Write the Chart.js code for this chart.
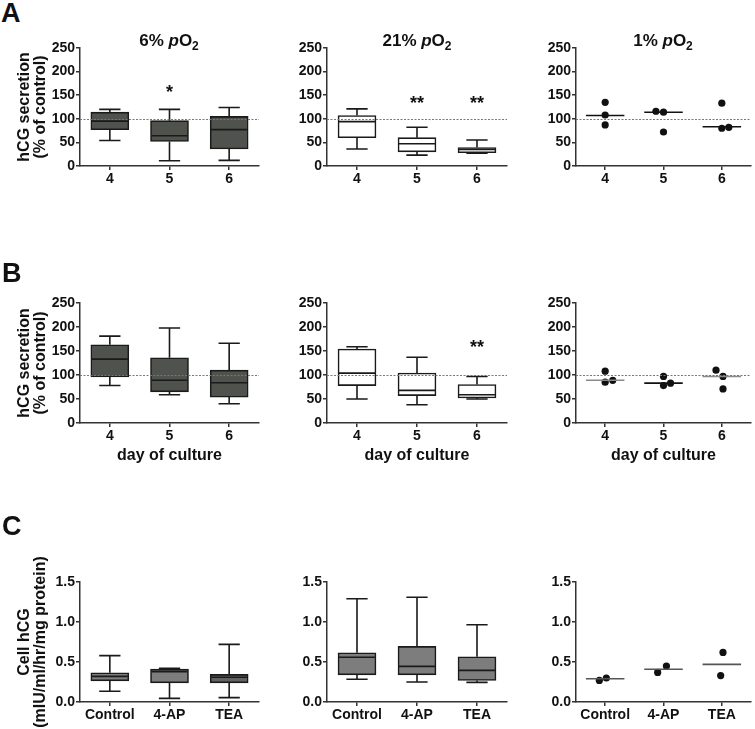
<!DOCTYPE html>
<html>
<head>
<meta charset="utf-8">
<script src="https://cdn.jsdelivr.net/npm/chart.js@4.4.1/dist/chart.umd.min.js"></script>
<style>
  body { margin: 0; background: #fff; }
  #fig { position: relative; width: 755px; height: 729px; font-family: 'Liberation Sans', Arial, sans-serif; color: #111; }
  canvas { position: absolute; }
  .lbl { position: absolute; font-weight: bold; white-space: nowrap; }
  .letter { font-size: 27px; line-height: 26px; }
  .ptitle { font-size: 17px; line-height: 16px; transform: translateX(-50%); }
  .ptitle .sub { font-size: 12px; position: relative; top: 4px; }
  .ytitle { font-size: 16px; line-height: 16px; text-align: center; transform: translate(-50%, -50%) rotate(-90deg); }
</style>
</head>
<body>
<div id="fig"></div>
<script>
// categories
const days = [4, 5, 6];
const treatments = ['Control', '4-AP', 'TEA'];

// box plots: [min, q1, median, q3, max] per category
const a6Box = [[54, 77, 95, 114, 120], [11, 52, 64, 96, 120], [12, 36, 77, 105, 124]];
const a21Box = [[36, 60, 94, 107, 121], [23, 30, 47, 60, 82], [27, 28, 35, 39, 55]];
const b6Box = [[78, 96, 133, 163, 181], [59, 65, 89, 136, 198], [40, 54, 84, 110, 166]];
const b21Box = [[50, 78, 104, 154, 159], [38, 57, 68, 104, 137], [50, 52, 59, 80, 97]];
const c1Box = [[0.135, 0.265, 0.32, 0.365, 0.58], [0.045, 0.24, 0.38, 0.41, 0.42], [0.055, 0.24, 0.31, 0.345, 0.72]];
const c2Box = [[0.285, 0.34, 0.56, 0.615, 1.29], [0.25, 0.34, 0.445, 0.695, 1.31], [0.245, 0.27, 0.395, 0.565, 0.965]];

// 1% pO2 / third column: single points and their medians
const a1Dots = [[135, 108, 87], [116, 114, 72], [133, 80, 82]];
const a1Mid = [107, 114, 83];
const b1Dots = [[108, 85, 89], [97, 78, 83], [110, 97, 71]];
const b1Mid = [89, 83, 97];
const c3Dots = [[0.27, 0.30], [0.37, 0.45], [0.62, 0.33]];
const c3Mid = [0.29, 0.41, 0.47];

// significance marks
const a6Stars = ['', '*', ''];
const a21Stars = ['', '**', '**'];
const b21Stars = ['', '', '**'];

// horizontal spread of overlapping points (style only)
const a1Jit = [[0, 0, 0], [-0.13, 0, 0], [0, 0, 0.12]];
const b1Jit = [[0, 0, 0.13], [0, 0, 0.12], [-0.1, 0.02, 0.02]];
const c3Jit = [[-0.1, 0.02], [-0.1, 0.05], [0.02, -0.02]];

const FONT = "'Liberation Sans', Arial, sans-serif";
const fig = document.getElementById('fig');
const COLS = [{ axis: 80, right: 259 }, { axis: 327, right: 507 }, { axis: 576, right: 753 }];
const ROWS = [{ top: 48, h: 118, xh: 25 }, { top: 303, h: 120, xh: 45 }, { top: 582, h: 120, xh: 25 }];
const PADT = 10;
const tickFont = { family: FONT, size: 14, weight: 'bold' };

function addLabel(cls, html, left, top) {
    const d = document.createElement('div');
    d.className = 'lbl ' + cls;
    d.innerHTML = html;
    d.style.left = left + 'px';
    d.style.top = top + 'px';
    fig.appendChild(d);
}

function makeCanvas(col, row) {
    const c = document.createElement('canvas');
    const yw = col === 0 ? COLS[0].axis : 40;
    const left = COLS[col].axis - yw;
    c.width = COLS[col].right + 2 - left;
    c.height = PADT + ROWS[row].h + ROWS[row].xh;
    c.style.left = left + 'px';
    c.style.top = (ROWS[row].top - PADT) + 'px';
    fig.appendChild(c);
    return { canvas: c, yw: yw };
}

function yScale(yw, max, step, fmt) {
    return {
        min: 0, max: max,
        afterFit: s => { s.width = yw; },
        ticks: { stepSize: step, color: '#111', font: tickFont, padding: 1, callback: fmt },
        grid: { drawOnChartArea: false, tickLength: 4, color: '#333', lineWidth: 1.5 },
        border: { color: '#333', width: 1.5 }
    };
}

function xCommon(row) {
    return {
        afterFit: s => { s.height = ROWS[row].xh; },
        grid: { offset: false, drawOnChartArea: false, tickLength: 4, color: '#333', lineWidth: 1.5 },
        border: { color: '#333', width: 1.5 },
        ticks: { color: '#111', font: tickFont, padding: 1, maxRotation: 0, autoSkip: false },
        title: row === 1
            ? { display: true, text: 'day of culture', color: '#111', font: { family: FONT, size: 16, weight: 'bold' }, padding: { top: 0, bottom: 3 } }
            : { display: false }
    };
}

// dotted reference line at 100 %
function refLine(value) {
    return {
        id: 'refLine',
        afterDatasetsDraw(chart) {
            const { ctx, chartArea, scales: { y } } = chart;
            const py = Math.round(y.getPixelForValue(value)) + 0.5;
            ctx.save();
            ctx.strokeStyle = '#777';
            ctx.lineWidth = 1;
            ctx.setLineDash([2, 1.5]);
            ctx.beginPath();
            ctx.moveTo(chartArea.left, py);
            ctx.lineTo(chartArea.right, py);
            ctx.stroke();
            ctx.restore();
        }
    };
}

// whiskers + median for the floating-bar boxes
function whiskers(box) {
    return {
        id: 'whiskers',
        afterDatasetsDraw(chart) {
            const { ctx, scales: { x, y } } = chart;
            const bars = chart.getDatasetMeta(0).data;
            ctx.save();
            ctx.strokeStyle = '#1a1a1a';
            ctx.lineWidth = 1.6;
            box.forEach((b, i) => {
                const cx = x.getPixelForValue(i);
                const half = bars[i].width / 2 - 1;
                const cap = bars[i].width * 0.28;
                const yMin = y.getPixelForValue(b[0]), yQ1 = y.getPixelForValue(b[1]);
                const yMed = y.getPixelForValue(b[2]);
                const yQ3 = y.getPixelForValue(b[3]), yMax = y.getPixelForValue(b[4]);
                ctx.beginPath();
                ctx.moveTo(cx, yMin); ctx.lineTo(cx, yQ1);
                ctx.moveTo(cx, yQ3); ctx.lineTo(cx, yMax);
                ctx.moveTo(cx - cap, yMin); ctx.lineTo(cx + cap, yMin);
                ctx.moveTo(cx - cap, yMax); ctx.lineTo(cx + cap, yMax);
                ctx.moveTo(cx - half, yMed); ctx.lineTo(cx + half, yMed);
                ctx.stroke();
            });
            ctx.restore();
        }
    };
}

function stars(marks, level) {
    return {
        id: 'stars',
        afterDatasetsDraw(chart) {
            const { ctx, scales: { x, y } } = chart;
            ctx.save();
            ctx.fillStyle = '#111';
            ctx.font = 'bold 18px ' + FONT;
            ctx.textAlign = 'center';
            ctx.textBaseline = 'alphabetic';
            marks.forEach((m, i) => {
                if (m) ctx.fillText(m, x.getPixelForValue(i), y.getPixelForValue(level) + 10);
            });
            ctx.restore();
        }
    };
}

function medianLines(xs, mids, colors) {
    return {
        id: 'medians',
        afterDatasetsDraw(chart) {
            const { ctx, scales: { x, y } } = chart;
            ctx.save();
            ctx.lineWidth = 1.6;
            mids.forEach((m, i) => {
                const py = y.getPixelForValue(m);
                ctx.strokeStyle = colors[i];
                ctx.beginPath();
                ctx.moveTo(x.getPixelForValue(xs[i] - 0.33), py);
                ctx.lineTo(x.getPixelForValue(xs[i] + 0.33), py);
                ctx.stroke();
            });
            ctx.restore();
        }
    };
}

function boxChart(col, row, labels, box, fill, yMax, yStep, fmt, extra) {
    const { canvas, yw } = makeCanvas(col, row);
    new Chart(canvas, {
        type: 'bar',
        data: {
            labels: labels,
            datasets: [{
                data: box.map(b => [b[1], b[3]]),
                backgroundColor: fill,
                borderColor: '#1a1a1a',
                borderWidth: 1.6,
                borderSkipped: false,
                barThickness: 38
            }]
        },
        options: {
            responsive: false, animation: false, events: [], devicePixelRatio: 1,
            layout: { padding: { top: PADT, right: 2, left: 0, bottom: 0 } },
            plugins: { legend: { display: false }, tooltip: { enabled: false } },
            scales: {
                x: Object.assign({ type: 'category', offset: true }, xCommon(row)),
                y: yScale(yw, yMax, yStep, fmt)
            }
        },
        plugins: [whiskers(box)].concat(extra)
    });
}

function dotChart(col, row, xs, tickText, dots, jit, mids, midColors, yMax, yStep, fmt, extra) {
    const { canvas, yw } = makeCanvas(col, row);
    const pts = [];
    dots.forEach((grp, i) => grp.forEach((v, j) => pts.push({ x: xs[i] + jit[i][j], y: v })));
    const xs2 = xCommon(row);
    xs2.ticks.callback = v => tickText[xs.indexOf(v)];
    new Chart(canvas, {
        type: 'scatter',
        data: {
            datasets: [{ data: pts, pointRadius: 3.6, backgroundColor: '#111', borderWidth: 0 }]
        },
        options: {
            responsive: false, animation: false, events: [], devicePixelRatio: 1,
            layout: { padding: { top: PADT, right: 2, left: 0, bottom: 0 } },
            plugins: { legend: { display: false }, tooltip: { enabled: false } },
            scales: {
                x: Object.assign({
                    type: 'linear', min: xs[0] - 0.5, max: xs[xs.length - 1] + 0.5,
                    afterBuildTicks: s => { s.ticks = xs.map(v => ({ value: v })); }
                }, xs2),
                y: yScale(yw, yMax, yStep, fmt)
            }
        },
        plugins: [medianLines(xs, mids, midColors)].concat(extra)
    });
}

const fmtInt = v => v;
const fmt1 = v => Number(v).toFixed(1);
const dayText = days.map(String);
const trtX = [1, 2, 3];
const dark = '#50524e';
const mid = '#7d7d7d';

// row A
boxChart(0, 0, dayText, a6Box, dark, 250, 50, fmtInt, [refLine(100), stars(a6Stars, 165)]);
boxChart(1, 0, dayText, a21Box, '#ffffff', 250, 50, fmtInt, [refLine(100), stars(a21Stars, 143)]);
dotChart(2, 0, days, dayText, a1Dots, a1Jit, a1Mid, ['#111', '#111', '#111'], 250, 50, fmtInt, [refLine(100)]);

// row B
boxChart(0, 1, dayText, b6Box, dark, 250, 50, fmtInt, [refLine(100)]);
boxChart(1, 1, dayText, b21Box, '#ffffff', 250, 50, fmtInt, [refLine(100), stars(b21Stars, 167)]);
dotChart(2, 1, days, dayText, b1Dots, b1Jit, b1Mid, ['#8a8a8a', '#111', '#8a8a8a'], 250, 50, fmtInt, [refLine(100)]);

// row C
boxChart(0, 2, treatments, c1Box, [mid, mid, '#626262'], 1.5, 0.5, fmt1, []);
boxChart(1, 2, treatments, c2Box, mid, 1.5, 0.5, fmt1, []);
dotChart(2, 2, trtX, treatments, c3Dots, c3Jit, c3Mid, ['#555', '#555', '#555'], 1.5, 0.5, fmt1, []);

// panel letters, titles, y titles
addLabel('letter', 'A', 1, 0);
addLabel('letter', 'B', 2, 260);
addLabel('letter', 'C', 2, 513);
addLabel('ptitle', '6% <i>p</i>O<span class="sub">2</span>', 169, 33);
addLabel('ptitle', '21% <i>p</i>O<span class="sub">2</span>', 417, 33);
addLabel('ptitle', '1% <i>p</i>O<span class="sub">2</span>', 663, 33);
addLabel('ytitle', 'hCG secretion<br>(% of control)', 32, 107);
addLabel('ytitle', 'hCG secretion<br>(% of control)', 32, 363);
addLabel('ytitle', 'Cell hCG<br>(mIU/ml/hr/mg protein)', 32, 642);
</script>
</body>
</html>
